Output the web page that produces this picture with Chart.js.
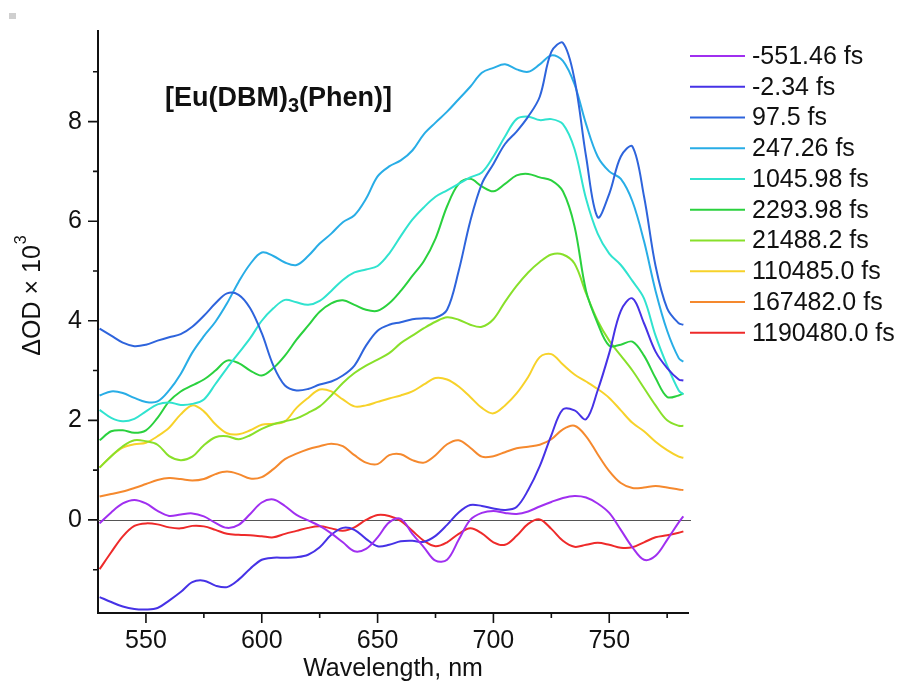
<!DOCTYPE html>
<html>
<head>
<meta charset="utf-8">
<title>[Eu(DBM)3(Phen)] transient absorption spectra</title>
<script src="https://cdn.jsdelivr.net/npm/chart.js@4.4.1/dist/chart.umd.min.js"></script>
<style>
  html, body { margin: 0; padding: 0; background: #fff; }
  #wrap { position: relative; width: 902px; height: 684px; }
  #mark { position: absolute; left: 9px; top: 13px; width: 7px; height: 6px; background: #cfcfcf; }
</style>
</head>
<body>
<div id="wrap"><canvas id="taChart"></canvas><div id="mark"></div></div>
<script>
/* Transient absorption spectra of [Eu(DBM)3(Phen)] at ten pump-probe delays. */
const WAVELENGTH = [530, 535, 540, 545, 550, 555, 560, 565, 570, 575, 580, 585, 590, 595, 600, 605,
  610, 615, 620, 625, 630, 635, 640, 645, 650, 655, 660, 665, 670, 675, 680, 685, 690, 695, 700,
  705, 710, 715, 720, 725, 730, 735, 740, 745, 750, 755, 760, 765, 770, 775, 780, 782];

const DELAYS = ["-551.46 fs", "-2.34 fs", "97.5 fs", "247.26 fs", "1045.98 fs", "2293.98 fs",
  "21488.2 fs", "110485.0 fs", "167482.0 fs", "1190480.0 fs"];

// ΔOD × 10^3, one array per delay
const OD_M551 = [-0.07, 0.15, 0.33, 0.40, 0.33, 0.18, 0.08, 0.11, 0.13, 0.07, -0.06, -0.16, -0.10, 0.12, 0.35, 0.41,
  0.28, 0.10, -0.01, -0.12, -0.27, -0.45, -0.63, -0.58, -0.35, -0.05, 0.02, -0.28, -0.55, -0.82, -0.80, -0.40, 0.0, 0.14, 0.18,
  0.14, 0.12, 0.17, 0.27, 0.36, 0.44, 0.48, 0.45, 0.33, 0.14, -0.20, -0.55, -0.80, -0.72, -0.40, -0.05, 0.07];
const OD_M2 = [-1.55, -1.65, -1.74, -1.79, -1.80, -1.77, -1.62, -1.45, -1.25, -1.22, -1.32, -1.35, -1.20, -0.98, -0.80, -0.76,
  -0.76, -0.75, -0.70, -0.55, -0.30, -0.16, -0.20, -0.38, -0.53, -0.50, -0.43, -0.42, -0.44, -0.32, -0.10, 0.15, 0.30, 0.28, 0.23,
  0.20, 0.26, 0.60, 1.08, 1.70, 2.22, 2.20, 2.02, 2.60, 3.35, 4.20, 4.45, 3.95, 3.38, 3.05, 2.82, 2.80];
const OD_97 = [3.84, 3.70, 3.56, 3.49, 3.52, 3.60, 3.67, 3.73, 3.88, 4.10, 4.35, 4.55, 4.52, 4.25, 3.75, 3.10,
  2.70, 2.60, 2.63, 2.72, 2.78, 2.90, 3.10, 3.50, 3.80, 3.92, 3.97, 4.03, 4.05, 4.06, 4.22, 5.00, 6.00, 6.75, 7.15,
  7.55, 7.80, 8.10, 8.50, 9.40, 9.58, 8.85, 7.30, 6.08, 6.55, 7.30, 7.50, 6.50, 5.10, 4.25, 3.95, 3.92];
const OD_247 = [2.50, 2.58, 2.55, 2.45, 2.37, 2.38, 2.60, 2.93, 3.36, 3.69, 3.98, 4.35, 4.78, 5.14, 5.37, 5.30,
  5.17, 5.12, 5.30, 5.55, 5.75, 5.98, 6.12, 6.45, 6.90, 7.10, 7.22, 7.42, 7.75, 7.98, 8.20, 8.45, 8.70, 8.98, 9.08,
  9.15, 9.05, 9.00, 9.15, 9.33, 9.22, 8.75, 7.95, 7.30, 7.00, 6.85, 6.40, 5.60, 4.60, 3.80, 3.25, 3.18];
const OD_1046 = [2.21, 2.05, 1.98, 2.03, 2.18, 2.32, 2.36, 2.31, 2.33, 2.42, 2.73, 3.05, 3.35, 3.65, 4.00, 4.25,
  4.42, 4.37, 4.32, 4.40, 4.60, 4.82, 4.97, 5.03, 5.10, 5.35, 5.70, 6.03, 6.28, 6.49, 6.62, 6.75, 6.88, 6.98, 7.30,
  7.70, 8.05, 8.10, 8.03, 8.05, 7.95, 7.45, 6.45, 5.75, 5.35, 5.12, 4.80, 4.45, 3.70, 3.10, 2.60, 2.52];
const OD_2294 = [1.60, 1.78, 1.80, 1.75, 1.80, 2.05, 2.38, 2.58, 2.70, 2.82, 3.00, 3.20, 3.15, 3.00, 2.90, 3.05,
  3.30, 3.62, 3.90, 4.18, 4.35, 4.41, 4.32, 4.22, 4.20, 4.35, 4.60, 4.90, 5.20, 5.65, 6.30, 6.75, 6.85, 6.70, 6.60,
  6.75, 6.92, 6.95, 6.88, 6.82, 6.60, 5.90, 4.60, 3.95, 3.50, 3.52, 3.58, 3.30, 2.85, 2.47, 2.50, 2.54];
const OD_21488 = [1.05, 1.28, 1.48, 1.60, 1.58, 1.51, 1.28, 1.20, 1.27, 1.50, 1.66, 1.68, 1.62, 1.70, 1.83, 1.92,
  1.98, 2.04, 2.15, 2.28, 2.50, 2.75, 2.95, 3.10, 3.22, 3.35, 3.55, 3.70, 3.85, 3.98, 4.07, 4.02, 3.92, 3.88, 4.03,
  4.38, 4.70, 4.97, 5.18, 5.33, 5.33, 5.15, 4.55, 4.00, 3.60, 3.30, 3.00, 2.65, 2.30, 2.00, 1.89, 1.89];
const OD_110485 = [1.05, 1.28, 1.45, 1.52, 1.55, 1.68, 1.85, 2.12, 2.30, 2.18, 1.92, 1.74, 1.72, 1.80, 1.91, 1.93,
  1.98, 2.25, 2.45, 2.62, 2.58, 2.42, 2.28, 2.30, 2.37, 2.44, 2.50, 2.58, 2.72, 2.85, 2.82, 2.68, 2.47, 2.25, 2.14,
  2.30, 2.54, 2.87, 3.27, 3.33, 3.12, 2.92, 2.78, 2.63, 2.45, 2.20, 1.95, 1.78, 1.57, 1.40, 1.27, 1.25];
const OD_167482 = [0.47, 0.52, 0.57, 0.64, 0.72, 0.80, 0.84, 0.82, 0.79, 0.82, 0.92, 0.97, 0.92, 0.83, 0.86, 1.02,
  1.22, 1.33, 1.42, 1.48, 1.53, 1.48, 1.30, 1.15, 1.12, 1.30, 1.32, 1.20, 1.15, 1.30, 1.52, 1.60, 1.45, 1.27, 1.28,
  1.36, 1.44, 1.47, 1.51, 1.62, 1.82, 1.89, 1.68, 1.32, 0.98, 0.74, 0.64, 0.65, 0.68, 0.65, 0.61, 0.60];
const OD_1190480 = [-0.99, -0.65, -0.33, -0.12, -0.07, -0.09, -0.15, -0.17, -0.12, -0.13, -0.20, -0.28, -0.30, -0.31, -0.33, -0.35,
  -0.28, -0.22, -0.16, -0.13, -0.17, -0.22, -0.15, 0.0, 0.10, 0.08, -0.02, -0.22, -0.42, -0.53, -0.45, -0.28, -0.17, -0.27, -0.45,
  -0.50, -0.32, -0.08, 0.01, -0.18, -0.42, -0.54, -0.50, -0.46, -0.50, -0.56, -0.55, -0.45, -0.35, -0.31, -0.26, -0.23];

const SERIES = [OD_M551, OD_M2, OD_97, OD_247, OD_1046, OD_2294, OD_21488, OD_110485, OD_167482, OD_1190480];
const COLORS = ["#a02ff0", "#4632e6", "#2e64dc", "#28ade6", "#30e3cf", "#2ad13e", "#88e02a", "#f7d22a", "#f5892e", "#ee2a2a"];

const X_MAJOR = [550, 600, 650, 700, 750];
const X_MINOR = [575, 625, 675, 725, 775];
const Y_MAJOR = [0, 2, 4, 6, 8];
const Y_MINOR = [-1, 1, 3, 5, 7, 9];

(function () {
  const FONT = "'Liberation Sans', Arial, sans-serif";
  const INK = "#111";
  Chart.defaults.font.family = FONT;
  Chart.defaults.color = INK;

  const datasets = SERIES.map((vals, i) => ({
    label: DELAYS[i],
    data: vals.map((v, k) => ({ x: WAVELENGTH[k], y: v })),
    borderColor: COLORS[i],
    borderWidth: 2,
    pointRadius: 0,
    tension: 0.35,
    fill: false,
  }));

  // zero line, tick marks, legend, sample label and y title
  const frame = {
    id: "frame",
    beforeDatasetsDraw(chart) {
      const { ctx, chartArea: a } = chart;
      const y0 = Math.round(chart.scales.y.getPixelForValue(0)) + 0.5;
      ctx.save();
      ctx.strokeStyle = "#555";
      ctx.lineWidth = 1;
      ctx.beginPath(); ctx.moveTo(a.left, y0); ctx.lineTo(a.right + 3, y0); ctx.stroke();
      ctx.restore();
    },
    afterDraw(chart) {
      const { ctx, chartArea: a, scales: { x, y } } = chart;
      ctx.save();
      ctx.strokeStyle = INK;
      ctx.lineWidth = 1.6;
      ctx.beginPath();
      X_MAJOR.forEach((v) => { const px = x.getPixelForValue(v); ctx.moveTo(px, a.bottom); ctx.lineTo(px, a.bottom + 10); });
      X_MINOR.forEach((v) => { const px = x.getPixelForValue(v); ctx.moveTo(px, a.bottom); ctx.lineTo(px, a.bottom + 5); });
      Y_MAJOR.forEach((v) => { const py = y.getPixelForValue(v); ctx.moveTo(a.left, py); ctx.lineTo(a.left - 10, py); });
      Y_MINOR.forEach((v) => { const py = y.getPixelForValue(v); ctx.moveTo(a.left, py); ctx.lineTo(a.left - 5, py); });
      ctx.stroke();

      // legend
      ctx.textBaseline = "middle";
      ctx.textAlign = "left";
      ctx.font = "25px " + FONT;
      DELAYS.forEach((lab, i) => {
        const ly = 56 + i * 30.75;
        ctx.strokeStyle = COLORS[i];
        ctx.lineWidth = 2;
        ctx.beginPath(); ctx.moveTo(690, ly); ctx.lineTo(745, ly); ctx.stroke();
        ctx.fillStyle = INK;
        ctx.fillText(lab, 752, ly + 1);
      });

      // sample label with subscript
      ctx.textBaseline = "alphabetic";
      ctx.fillStyle = INK;
      let tx = 165;
      ctx.font = "bold 27px " + FONT;
      ctx.fillText("[Eu(DBM)", tx, 106); tx += ctx.measureText("[Eu(DBM)").width;
      ctx.font = "bold 20px " + FONT;
      ctx.fillText("3", tx, 112); tx += ctx.measureText("3").width;
      ctx.font = "bold 27px " + FONT;
      ctx.fillText("(Phen)]", tx, 106);

      // rotated y title with superscript
      ctx.translate(40, 296);
      ctx.rotate(-Math.PI / 2);
      ctx.font = "25px " + FONT;
      const main = "ΔOD × 10";
      const w1 = ctx.measureText(main).width;
      ctx.font = "16px " + FONT;
      const w2 = ctx.measureText("3").width;
      const sx = -(w1 + w2) / 2;
      ctx.font = "25px " + FONT;
      ctx.fillText(main, sx, 0);
      ctx.font = "16px " + FONT;
      ctx.fillText("3", sx + w1 + 1, -14);
      ctx.restore();
    },
  };

  new Chart(document.getElementById("taChart"), {
    type: "line",
    data: { datasets },
    plugins: [frame],
    options: {
      responsive: true, maintainAspectRatio: false, animation: false, devicePixelRatio: 1,
      layout: { padding: { top: 21, right: 214, left: 0, bottom: 0 } },
      plugins: { legend: { display: false }, tooltip: { enabled: false } },
      scales: {
        x: {
          type: "linear", min: 529.3, max: 784,
          afterBuildTicks: (s) => { s.ticks = X_MAJOR.map((v) => ({ value: v })); },
          afterFit: (s) => { s.height = 71; },
          grid: { display: false, drawTicks: false },
          border: { color: INK, width: 2 },
          ticks: { padding: 13, font: { size: 25 }, color: INK, maxRotation: 0 },
          title: { display: true, text: "Wavelength, nm", font: { size: 25 }, color: INK, padding: { top: 0, bottom: 0 } },
        },
        y: {
          type: "linear", min: -1.87, max: 9.82,
          afterBuildTicks: (s) => { s.ticks = Y_MAJOR.map((v) => ({ value: v })); },
          afterFit: (s) => { s.width = 98; },
          grid: { display: false, drawTicks: false },
          border: { color: INK, width: 2 },
          ticks: { padding: 16, font: { size: 25 }, color: INK },
        },
      },
    },
  });
})();
</script>
</body>
</html>
